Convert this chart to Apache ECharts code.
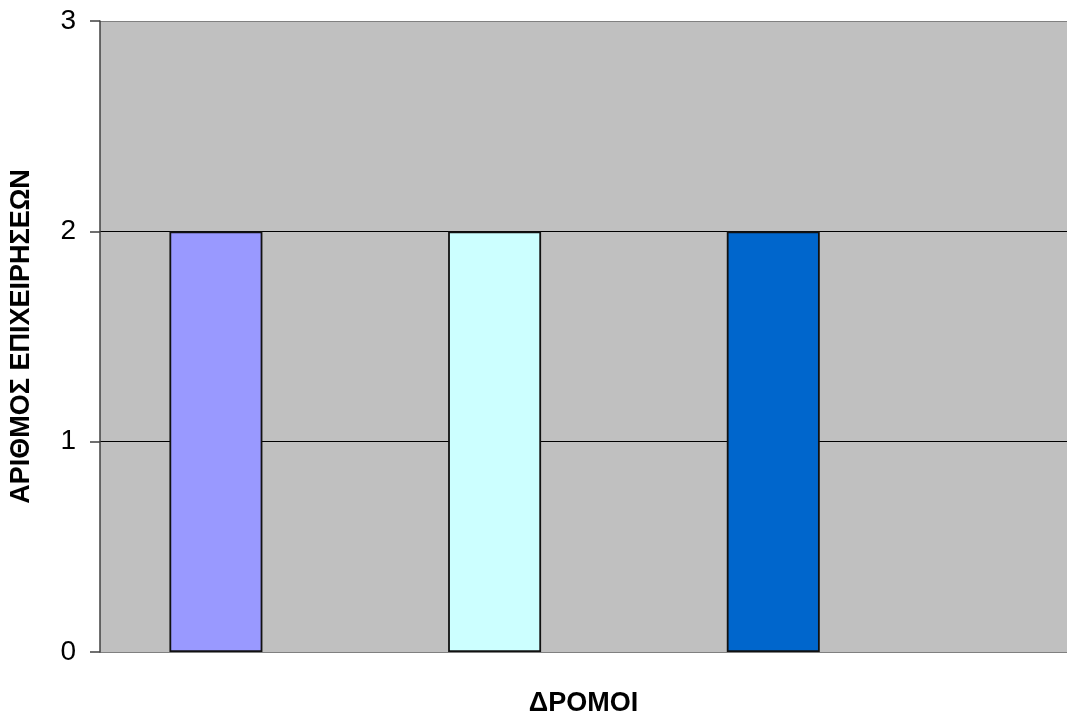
<!DOCTYPE html>
<html>
<head>
<meta charset="utf-8">
<script src="https://cdn.jsdelivr.net/npm/echarts@6/dist/echarts.min.js"></script>
<style>
html,body{margin:0;padding:0;background:#fff;}
#chart{width:1069px;height:722px;}
</style>
</head>
<body>
<div id="chart"></div>
<script>
// Data
var streets = [1, 2, 3];            // street index (position along the x axis)
var businesses = [2, 2, 2];         // number of businesses per street
var yTicks = [0, 1, 2, 3];
var barColors = ['#9999FF', '#CCFFFF', '#0066CC'];
var xTitle = 'ΔΡΟΜΟΙ';
var yTitle = 'ΑΡΙΘΜΟΣ ΕΠΙΧΕΙΡΗΣΕΩΝ';

var FONT = 'Arial, "Liberation Sans", sans-serif';

var chart = echarts.init(document.getElementById('chart'), null, {renderer: 'canvas'});

var seriesData = streets.map(function (s, i) {
  return {
    value: [s, businesses[i]],
    itemStyle: { color: barColors[i] }
  };
});

chart.setOption({
  animation: false,
  backgroundColor: '#ffffff',
  grid: {
    left: 99, top: 21, right: 2, bottom: 63,
    show: true, backgroundColor: '#C0C0C0', borderWidth: 0
  },
  xAxis: {
    type: 'value',
    min: 0.584, max: 4.054,
    name: xTitle,
    nameLocation: 'middle',
    nameGap: 38,
    nameTextStyle: { fontFamily: FONT, fontWeight: 'bold', fontSize: 27, color: '#000' },
    axisLine: { show: false },
    axisTick: { show: false },
    axisLabel: { show: false },
    splitLine: { show: false }
  },
  yAxis: {
    type: 'value',
    min: yTicks[0], max: yTicks[yTicks.length - 1], interval: 1,
    name: yTitle,
    nameLocation: 'middle',
    nameGap: 65,
    nameRotate: 90,
    nameTextStyle: { fontFamily: FONT, fontWeight: 'bold', fontSize: 27, color: '#000' },
    axisLine: { show: true, lineStyle: { color: '#404040', width: 1.5 } },
    axisTick: { show: true, length: 10, lineStyle: { color: '#404040', width: 1.5 } },
    axisLabel: { margin: 24, fontFamily: FONT, fontSize: 28, color: '#000' },
    splitLine: { show: true, lineStyle: { color: ['#808080', '#000000', '#000000', '#808080'], width: 1.2 } }
  },
  series: [{
    type: 'bar',
    barWidth: 93,
    data: seriesData,
    itemStyle: { borderColor: '#111', borderWidth: 1.8 }
  }]
});
</script>
</body>
</html>
